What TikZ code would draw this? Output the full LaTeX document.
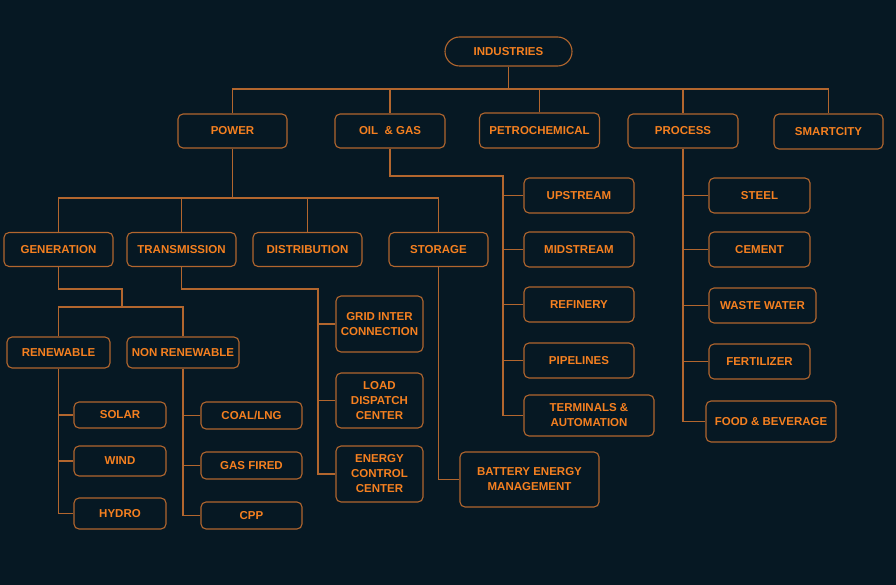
\documentclass[tikz,border=0pt]{standalone}
\usepackage{fontspec}
\setmainfont{Liberation Sans}

\definecolor{NightBlue}{RGB}{6,24,35}
\definecolor{LabelOrange}{RGB}{245,128,32}
\definecolor{WireBrown}{RGB}{178,102,46}
\colorlet{ColourBack}{NightBlue}
\colorlet{ColourText}{LabelOrange}
\colorlet{ColourLine}{WireBrown}

\tikzset{
  box/.style={draw=ColourLine, line width=1.1pt, rounded corners=5pt, inner sep=0pt,
    text=ColourText, align=center, font=\bfseries\fontsize{11.5}{15}\selectfont},
  wire/.style={ColourLine, line width=1.1pt}
}

\begin{document}
\begin{tikzpicture}[x=1pt,y=-1pt]

  \fill[ColourBack] (0,0) rectangle (896,585);
  \useasboundingbox (0,0) rectangle (896,585);

  % top level
  \node[box,rounded corners=14.5pt,minimum width=127,minimum height=29] (ind) at (508.5,51.5) {INDUSTRIES};

  \node[box,minimum width=109,minimum height=34] (power) at (232.5,131) {POWER};
  \node[box,minimum width=110,minimum height=34] (oil) at (390,131) {OIL \ \& GAS};
  \node[box,minimum width=120,minimum height=35] (petro) at (539.5,130.5) {PETROCHEMICAL};
  \node[box,minimum width=110,minimum height=34] (proc) at (683,131) {PROCESS};
  \node[box,minimum width=109,minimum height=35] (smart) at (828.5,131.5) {SMARTCITY};

  % power
  \node[box,minimum width=109,minimum height=34] (gen) at (58.5,249.5) {GENERATION};
  \node[box,minimum width=109,minimum height=34] (trans) at (181.5,249.5) {TRANSMISSION};
  \node[box,minimum width=109,minimum height=34] (dist) at (307.5,249.5) {DISTRIBUTION};
  \node[box,minimum width=99,minimum height=34] (stor) at (438.5,249.5) {STORAGE};

  \node[box,minimum width=103,minimum height=31] (renew) at (58.5,352.5) {RENEWABLE};
  \node[box,minimum width=112,minimum height=31] (nonrenew) at (183,352.5) {NON RENEWABLE};

  \node[box,minimum width=92,minimum height=26] (solar) at (120,415) {SOLAR};
  \node[box,minimum width=92,minimum height=30] (wind) at (120,461) {WIND};
  \node[box,minimum width=92,minimum height=31] (hydro) at (120,513.5) {HYDRO};

  \node[box,minimum width=101,minimum height=27] (coal) at (251.5,415.5) {COAL/LNG};
  \node[box,minimum width=101,minimum height=27] (gasf) at (251.5,465.5) {GAS FIRED};
  \node[box,minimum width=101,minimum height=27] (cpp) at (251.5,515.5) {CPP};

  \node[box,minimum width=87,minimum height=56] (grid) at (379.5,324) {GRID INTER\\CONNECTION};
  \node[box,minimum width=87,minimum height=55] (load) at (379.5,400.5) {LOAD\\DISPATCH\\CENTER};
  \node[box,minimum width=87,minimum height=56] (ecc) at (379.5,474) {ENERGY\\CONTROL\\CENTER};

  \node[box,minimum width=139,minimum height=55] (batt) at (529.5,479.5) {BATTERY ENERGY\\MANAGEMENT};

  % oil & gas
  \node[box,minimum width=110,minimum height=35] (up) at (579,195.5) {UPSTREAM};
  \node[box,minimum width=110,minimum height=35] (mid) at (579,249.5) {MIDSTREAM};
  \node[box,minimum width=110,minimum height=35] (ref) at (579,304.5) {REFINERY};
  \node[box,minimum width=110,minimum height=35] (pipe) at (579,360.5) {PIPELINES};
  \node[box,minimum width=130,minimum height=41] (term) at (589,415.5) {TERMINALS \&\\AUTOMATION};

  % process
  \node[box,minimum width=101,minimum height=35] (steel) at (759.5,195.5) {STEEL};
  \node[box,minimum width=101,minimum height=35] (cement) at (759.5,249.5) {CEMENT};
  \node[box,minimum width=107,minimum height=35] (waste) at (762.5,305.5) {WASTE WATER};
  \node[box,minimum width=101,minimum height=35] (fert) at (759.5,361.5) {FERTILIZER};
  \node[box,minimum width=130,minimum height=41] (food) at (771,421.5) {FOOD \& BEVERAGE};

  % bends of the wiring
  \coordinate (topbus) at (508.5,89);
  \coordinate (pwrbus) at (232.5,198);
  \coordinate (genbend) at (122,289);
  \coordinate (genbus) at (122,307);
  \coordinate (trbend) at (318,289);
  \coordinate (oilbend) at (503,176);

  \draw[wire] (ind.south) -- (topbus);
  \draw[wire] (power.north) |- (topbus) -| (smart.north);
  \draw[wire] (oil.north) -- (oil.north |- topbus);
  \draw[wire] (petro.north) -- (petro.north |- topbus);
  \draw[wire] (proc.north) -- (proc.north |- topbus);

  \draw[wire] (power.south) -- (pwrbus);
  \draw[wire] (gen.north) |- (pwrbus) -| (stor.north);
  \draw[wire] (trans.north) -- (trans.north |- pwrbus);
  \draw[wire] (dist.north) -- (dist.north |- pwrbus);

  \draw[wire] (gen.south) |- (genbend) -- (genbus);
  \draw[wire] (renew.north) |- (genbus) -| (nonrenew.north);

  \draw[wire] (renew.south) |- (hydro.west);
  \draw[wire] (solar.west) -- (solar.west -| renew.south);
  \draw[wire] (wind.west) -- (wind.west -| renew.south);

  \draw[wire] (nonrenew.south) |- (cpp.west);
  \draw[wire] (coal.west) -- (coal.west -| nonrenew.south);
  \draw[wire] (gasf.west) -- (gasf.west -| nonrenew.south);

  \draw[wire] (trans.south) |- (trbend) |- (ecc.west);
  \draw[wire] (grid.west) -- (grid.west -| trbend);
  \draw[wire] (load.west) -- (load.west -| trbend);

  \draw[wire] (stor.south) |- (batt.west);

  \draw[wire] (oil.south) |- (oilbend) |- (term.west);
  \draw[wire] (up.west) -- (up.west -| oilbend);
  \draw[wire] (mid.west) -- (mid.west -| oilbend);
  \draw[wire] (ref.west) -- (ref.west -| oilbend);
  \draw[wire] (pipe.west) -- (pipe.west -| oilbend);

  \draw[wire] (proc.south) |- (food.west);
  \draw[wire] (steel.west) -- (steel.west -| proc.south);
  \draw[wire] (cement.west) -- (cement.west -| proc.south);
  \draw[wire] (waste.west) -- (waste.west -| proc.south);
  \draw[wire] (fert.west) -- (fert.west -| proc.south);

\end{tikzpicture}
\end{document}
